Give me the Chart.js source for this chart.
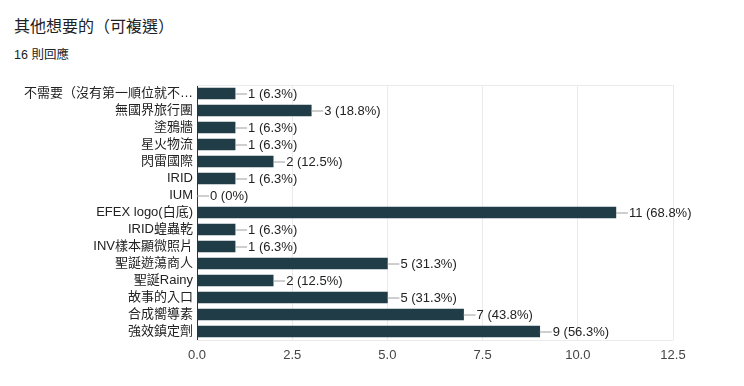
<!DOCTYPE html>
<html>
<head>
<meta charset="utf-8">
<script src="https://cdn.jsdelivr.net/npm/chart.js@4"></script>
<style>
  body { margin:0; background:#fff; font-family: Arial, "Liberation Sans", "Noto Sans CJK TC", sans-serif; }
  #wrap { position:relative; width:744px; height:386px; }
  #title { position:absolute; left:14px; top:13px; font-size:16px; color:#202124; }
  #sub { position:absolute; left:14px; top:44px; font-size:12.5px; color:#202124; }
  canvas { position:absolute; left:0; top:0; }
</style>
</head>
<body>
<div id="wrap">
  <div id="title">其他想要的（可複選）</div>
  <div id="sub">16 則回應</div>
  <canvas id="myChart" width="744" height="386"></canvas>
</div>
<script>
var categories = ['不需要（沒有第一順位就不…', '無國界旅行團', '塗鴉牆', '星火物流', '閃雷國際', 'IRID', 'IUM',
  'EFEX logo(白底)', 'IRID蝗蟲乾', 'INV樣本顯微照片', '聖誕遊蕩商人', '聖誕Rainy', '故事的入口', '合成嚮導素', '強效鎮定劑'];
var counts = [1, 3, 1, 1, 2, 1, 0, 11, 1, 1, 5, 2, 5, 7, 9];
var totalResponses = 16;
var xTicks = [0, 2.5, 5, 7.5, 10, 12.5];

var fontFam = 'Arial, "Liberation Sans", "Noto Sans CJK TC", sans-serif';

// leader line + "n (p%)" label after each bar
var valueLabels = {
  id: 'valueLabels',
  afterDatasetsDraw: function(chart) {
    var ctx = chart.ctx;
    var meta = chart.getDatasetMeta(0);
    ctx.save();
    ctx.font = '13px ' + fontFam;
    ctx.textBaseline = 'middle';
    meta.data.forEach(function(bar, i) {
      var v = counts[i];
      var pct = Math.round(v / totalResponses * 1000) / 10;
      var txt = v + ' (' + pct + '%)';
      var x = bar.x, y = bar.y;
      ctx.strokeStyle = '#9e9e9e';
      ctx.lineWidth = 1;
      ctx.beginPath();
      ctx.moveTo(x, y + 0.5);
      ctx.lineTo(x + 12, y + 0.5);
      ctx.stroke();
      ctx.fillStyle = '#222';
      ctx.fillText(txt, x + 13, y + 1);
    });
    ctx.restore();
  }
};

var config = {
  type: 'bar',
  data: {
    labels: categories,
    datasets: [{
      label: '回應',
      data: counts,
      backgroundColor: '#203c47',
      barThickness: 11
    }]
  },
  options: {
    indexAxis: 'y',
    responsive: false,
    animation: false,
    layout: { padding: { top: 85, right: 71, left: 0, bottom: 16 } },
    plugins: { legend: { display: false }, tooltip: { enabled: false } },
    scales: {
      x: {
        min: 0, max: 12.5,
        afterBuildTicks: function(s) { s.ticks = xTicks.map(function(v) { return { value: v }; }); },
        afterFit: function(s) { s.height = 30; },
        grid: { color: '#ebebeb', drawTicks: false },
        border: { display: false },
        ticks: {
          padding: 8,
          color: '#444',
          font: { size: 13, family: fontFam },
          callback: function(v) { return v.toFixed(1); }
        }
      },
      y: {
        afterFit: function(s) { s.width = 197; },
        grid: { display: false, drawTicks: false },
        border: { display: true, color: '#333', width: 1 },
        ticks: {
          padding: 4,
          color: '#222',
          autoSkip: false,
          font: { size: 13, family: fontFam }
        }
      }
    }
  },
  plugins: [valueLabels, {
    id: 'frame',
    beforeDatasetsDraw: function(chart) {
      var a = chart.chartArea, ctx = chart.ctx;
      ctx.save();
      ctx.strokeStyle = '#ebebeb';
      ctx.lineWidth = 1;
      ctx.beginPath();
      ctx.moveTo(a.left, a.top + 0.5); ctx.lineTo(a.right, a.top + 0.5);
      ctx.moveTo(a.left, a.bottom + 0.5); ctx.lineTo(a.right, a.bottom + 0.5);
      ctx.stroke();
      ctx.restore();
    }
  }]
};

var chartInstance = new Chart(document.getElementById('myChart'), config);
</script>
</body>
</html>
